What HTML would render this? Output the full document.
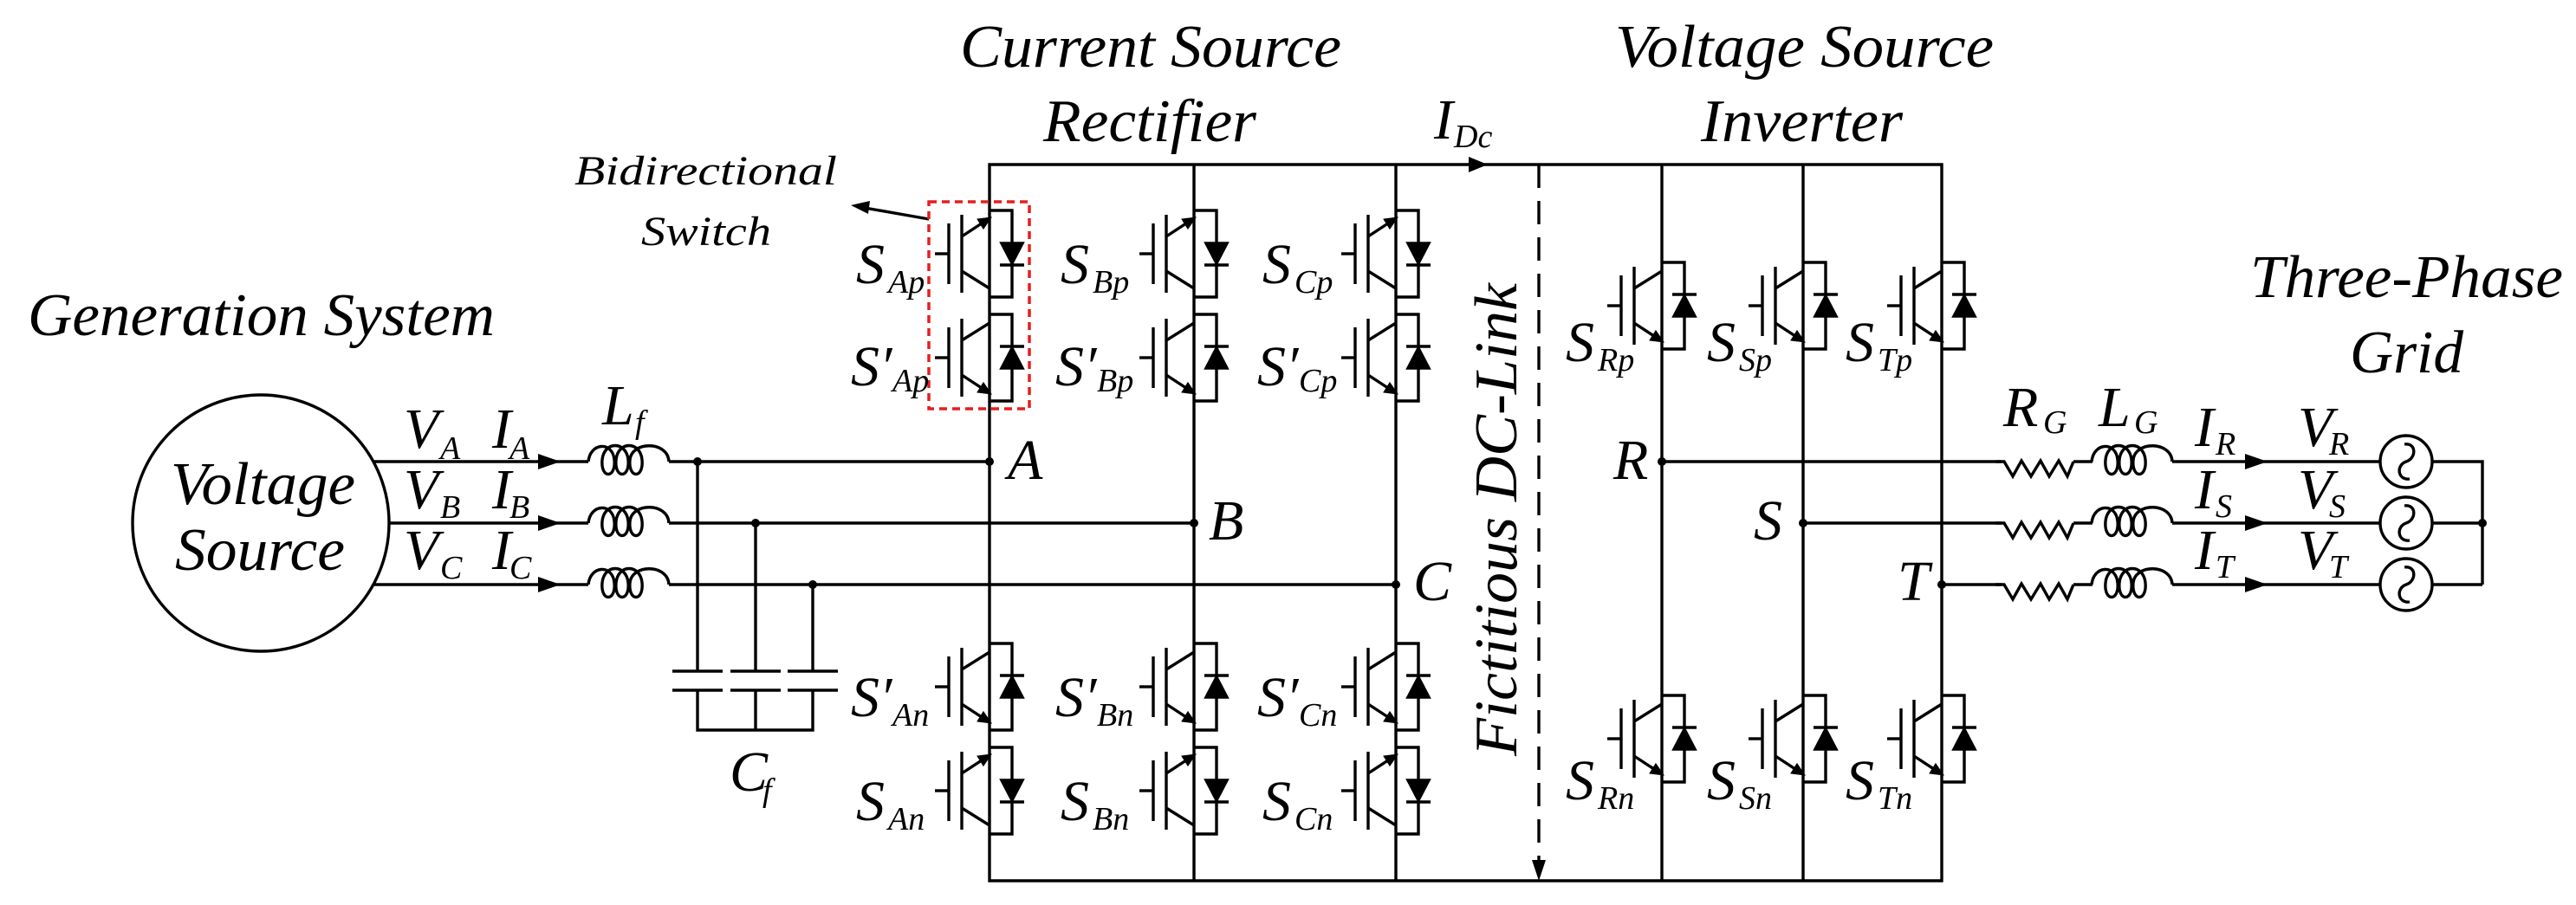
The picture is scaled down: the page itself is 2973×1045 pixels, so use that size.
<!DOCTYPE html>
<html><head><meta charset="utf-8"><style>
html,body{margin:0;padding:0;background:#fff;}
svg{display:block;}
svg text{font-family:"Liberation Serif","Times New Roman","DejaVu Serif",serif !important;font-style:italic;fill:#000;}
.big{font-size:70px;}
.lab{font-size:66px;}
.sub{font-size:38px;}
</style></head><body>
<svg width="2973" height="1045" viewBox="0 0 2973 1045" xmlns="http://www.w3.org/2000/svg" font-family="Liberation Serif, Times New Roman, serif" font-style="italic">
<defs>
  <g id="dev" fill="none" stroke="#000" stroke-width="3.4">
    <path d="M0,0 H26 V100 H0"/>
    <path d="M-32,5 V95"/>
    <path d="M-47,15 V85"/>
    <path d="M-63,50 H-47"/>
    <path d="M-32,30 L0,10"/>
    <path d="M-32,70 L-3,89"/>
    <path d="M-0.5,90.5 L-12,89 L-7,81 Z" fill="#000"/>
    <path d="M14,62 H38 L26,39 Z" fill="#000"/>
    <path d="M12,37 H40"/>
  </g>
  <g id="devr"><use href="#dev" transform="translate(0,100) scale(1,-1)"/></g>
  <path id="ind" d="M0,0 C2,-22 28,-24 30,-2 C32,20 14,20 16,-2 C18,-24 44,-24 46,-2 C48,20 30,20 32,-2 C34,-24 60,-24 62,-2 C64,20 46,20 48,-2 C50,-24 92,-24 93,0" fill="none" stroke="#000" stroke-width="3.4"/>
  <path id="res" d="M0,0 L10,0 L20,17 L30,-1 L41,17 L52,-1 L62,17 L73,-1 L83,17 L90,0" fill="none" stroke="#000" stroke-width="3.4"/>
  <g id="src" fill="none" stroke="#000" stroke-width="3.4">
    <circle cx="0" cy="0" r="30"/>
    <path d="M-2,-20 C12,-22 12,-4 0,0 C-12,4 -10,22 4,20"/>
  </g>
  <path id="arr" d="M0,0 L-26,-9 L-26,9 Z" fill="#000"/>
</defs>

<g stroke="#000" stroke-width="3.4" fill="none">
  <circle cx="301" cy="604" r="148"/>
  <path d="M432,533 H679 M772,533 H1142"/>
  <path d="M448,604 H679 M772,604 H1378"/>
  <path d="M432,675 H679 M772,675 H1611"/>
  <path d="M805,533 V775 M872,604 V775 M938,675 V775"/>
  <path d="M776,775 H834 M843,775 H901 M909,775 H967"/>
  <path d="M776,797 H834 M843,797 H901 M909,797 H967"/>
  <path d="M805,797 V843 H938 V797 M872,797 V843"/>
  <path d="M1142,190 H2241 V1017 H1142 Z"/>
  <path d="M1378,190 V1017 M1611,190 V1017 M1918,190 V1017 M2081,190 V1017"/>
  <path d="M1776,190 V995" stroke-dasharray="27,15"/>
  <path d="M1918,533 H2310 M2393,533 H2415 M2507,533 H2747 M2807,533 H2865 V675"/>
  <path d="M2081,604 H2310 M2393,604 H2415 M2507,604 H2747 M2807,604 H2865"/>
  <path d="M2241,675 H2310 M2393,675 H2415 M2507,675 H2747 M2807,675 H2865"/>
  <path d="M1072,253 L998,240"/>
</g>
<path d="M982,237 L1004,232 L1002,247 Z" fill="#000"/>
<rect x="1072" y="233" width="116" height="239" fill="none" stroke="#e61e1e" stroke-width="3.5" stroke-dasharray="9,6"/>

<use href="#arr" x="647" y="533"/><use href="#arr" x="647" y="604"/><use href="#arr" x="647" y="675"/>
<use href="#arr" x="2617" y="533"/><use href="#arr" x="2617" y="604"/><use href="#arr" x="2617" y="675"/>
<path d="M1717,190 L1695,181 L1695,199 Z" fill="#000"/>
<path d="M1776,1017 L1768,993 L1784,993 Z" fill="#000"/>

<use href="#ind" x="679" y="533"/><use href="#ind" x="679" y="604"/><use href="#ind" x="679" y="675"/>
<use href="#ind" x="2414" y="533"/><use href="#ind" x="2414" y="604"/><use href="#ind" x="2414" y="675"/>
<use href="#res" x="2303" y="533"/><use href="#res" x="2303" y="604"/><use href="#res" x="2303" y="675"/>
<use href="#src" x="2777" y="533"/><use href="#src" x="2777" y="604"/><use href="#src" x="2777" y="675"/>

<g fill="#000">
<circle cx="805" cy="533" r="5"/><circle cx="872" cy="604" r="5"/><circle cx="938" cy="675" r="5"/>
<circle cx="1142" cy="533" r="5"/><circle cx="1378" cy="604" r="5"/><circle cx="1611" cy="675" r="5"/>
<circle cx="1918" cy="533" r="5"/><circle cx="2081" cy="604" r="5"/><circle cx="2241" cy="675" r="5"/>
<circle cx="2865" cy="604" r="5"/>
</g>

<use href="#devr" x="1142" y="243"/><use href="#dev" x="1142" y="363"/><use href="#dev" x="1142" y="743"/><use href="#devr" x="1142" y="863"/>
<use href="#devr" x="1378" y="243"/><use href="#dev" x="1378" y="363"/><use href="#dev" x="1378" y="743"/><use href="#devr" x="1378" y="863"/>
<use href="#devr" x="1611" y="243"/><use href="#dev" x="1611" y="363"/><use href="#dev" x="1611" y="743"/><use href="#devr" x="1611" y="863"/>
<use href="#dev" x="1918" y="303"/><use href="#dev" x="1918" y="803"/>
<use href="#dev" x="2081" y="303"/><use href="#dev" x="2081" y="803"/>
<use href="#dev" x="2241" y="303"/><use href="#dev" x="2241" y="803"/>

<text class="big" x="32" y="387" textLength="539" lengthAdjust="spacingAndGlyphs">Generation System</text>
<text class="big" x="1108" y="77" textLength="440" lengthAdjust="spacingAndGlyphs">Current Source</text>
<text class="big" x="1204" y="163" textLength="246" lengthAdjust="spacingAndGlyphs">Rectifier</text>
<text class="big" x="1864" y="77" textLength="437" lengthAdjust="spacingAndGlyphs">Voltage Source</text>
<text class="big" x="1963" y="163" textLength="233" lengthAdjust="spacingAndGlyphs">Inverter</text>
<text class="big" x="2597" y="343" textLength="361" lengthAdjust="spacingAndGlyphs">Three-Phase</text>
<text class="big" x="2712" y="430" textLength="131" lengthAdjust="spacingAndGlyphs">Grid</text>
<text class="big" x="197" y="582" textLength="213" lengthAdjust="spacingAndGlyphs">Voltage</text>
<text class="big" x="202" y="658" textLength="196" lengthAdjust="spacingAndGlyphs">Source</text>
<text style="font-size:48px" x="663" y="213" textLength="303" lengthAdjust="spacingAndGlyphs">Bidirectional</text>
<text style="font-size:48px" x="740" y="283" textLength="150" lengthAdjust="spacingAndGlyphs">Switch</text>
<text class="big" transform="translate(1750,600) rotate(-90)" text-anchor="middle" textLength="546" lengthAdjust="spacingAndGlyphs">Fictitious DC-Link</text>

<text class="lab" x="466" y="517">V</text><text class="sub" x="508" y="530">A</text>
<text class="lab" x="568" y="517">I</text><text class="sub" x="588" y="530">A</text>
<text class="lab" x="466" y="587">V</text><text class="sub" x="508" y="598">B</text>
<text class="lab" x="568" y="587">I</text><text class="sub" x="588" y="598">B</text>
<text class="lab" x="466" y="657">V</text><text class="sub" x="508" y="668">C</text>
<text class="lab" x="568" y="657">I</text><text class="sub" x="588" y="668">C</text>
<text class="lab" x="695" y="490">L</text><text class="sub" x="733" y="500">f</text>
<text class="lab" x="842" y="913">C</text><text class="sub" x="880" y="925">f</text>

<text class="lab" x="1163" y="553">A</text>
<text class="lab" x="1395" y="623">B</text>
<text class="lab" x="1631" y="693">C</text>
<text class="lab" x="1862" y="553">R</text>
<text class="lab" x="2024" y="623">S</text>
<text class="lab" x="2190" y="693">T</text>
<text class="lab" x="1655" y="160">I</text><text class="sub" x="1678" y="170">Dc</text>

<text class="lab" x="988" y="327">S</text><text class="sub" x="1025" y="338">Ap</text>
<text class="lab" x="982" y="445">S′</text><text class="sub" x="1030" y="452">Ap</text>
<text class="lab" x="982" y="827">S′</text><text class="sub" x="1030" y="838">An</text>
<text class="lab" x="988" y="947">S</text><text class="sub" x="1025" y="958">An</text>
<text class="lab" x="1224" y="327">S</text><text class="sub" x="1261" y="338">Bp</text>
<text class="lab" x="1218" y="445">S′</text><text class="sub" x="1266" y="452">Bp</text>
<text class="lab" x="1218" y="827">S′</text><text class="sub" x="1266" y="838">Bn</text>
<text class="lab" x="1224" y="947">S</text><text class="sub" x="1261" y="958">Bn</text>
<text class="lab" x="1457" y="327">S</text><text class="sub" x="1494" y="338">Cp</text>
<text class="lab" x="1451" y="445">S′</text><text class="sub" x="1499" y="452">Cp</text>
<text class="lab" x="1451" y="827">S′</text><text class="sub" x="1499" y="838">Cn</text>
<text class="lab" x="1457" y="947">S</text><text class="sub" x="1494" y="958">Cn</text>

<text class="lab" x="1807" y="417">S</text><text class="sub" x="1844" y="428">Rp</text>
<text class="lab" x="1807" y="923">S</text><text class="sub" x="1844" y="934">Rn</text>
<text class="lab" x="1970" y="417">S</text><text class="sub" x="2007" y="428">Sp</text>
<text class="lab" x="1970" y="923">S</text><text class="sub" x="2007" y="934">Sn</text>
<text class="lab" x="2130" y="417">S</text><text class="sub" x="2167" y="428">Tp</text>
<text class="lab" x="2130" y="923">S</text><text class="sub" x="2167" y="934">Tn</text>

<text class="lab" x="2312" y="492">R</text><text class="sub" x="2358" y="500">G</text>
<text class="lab" x="2422" y="492">L</text><text class="sub" x="2463" y="500">G</text>
<text class="lab" x="2533" y="515">I</text><text class="sub" x="2557" y="525">R</text>
<text class="lab" x="2533" y="587">I</text><text class="sub" x="2557" y="597">S</text>
<text class="lab" x="2533" y="657">I</text><text class="sub" x="2557" y="667">T</text>
<text class="lab" x="2652" y="515">V</text><text class="sub" x="2688" y="525">R</text>
<text class="lab" x="2652" y="587">V</text><text class="sub" x="2688" y="597">S</text>
<text class="lab" x="2652" y="657">V</text><text class="sub" x="2688" y="667">T</text>
</svg>
</body></html>
